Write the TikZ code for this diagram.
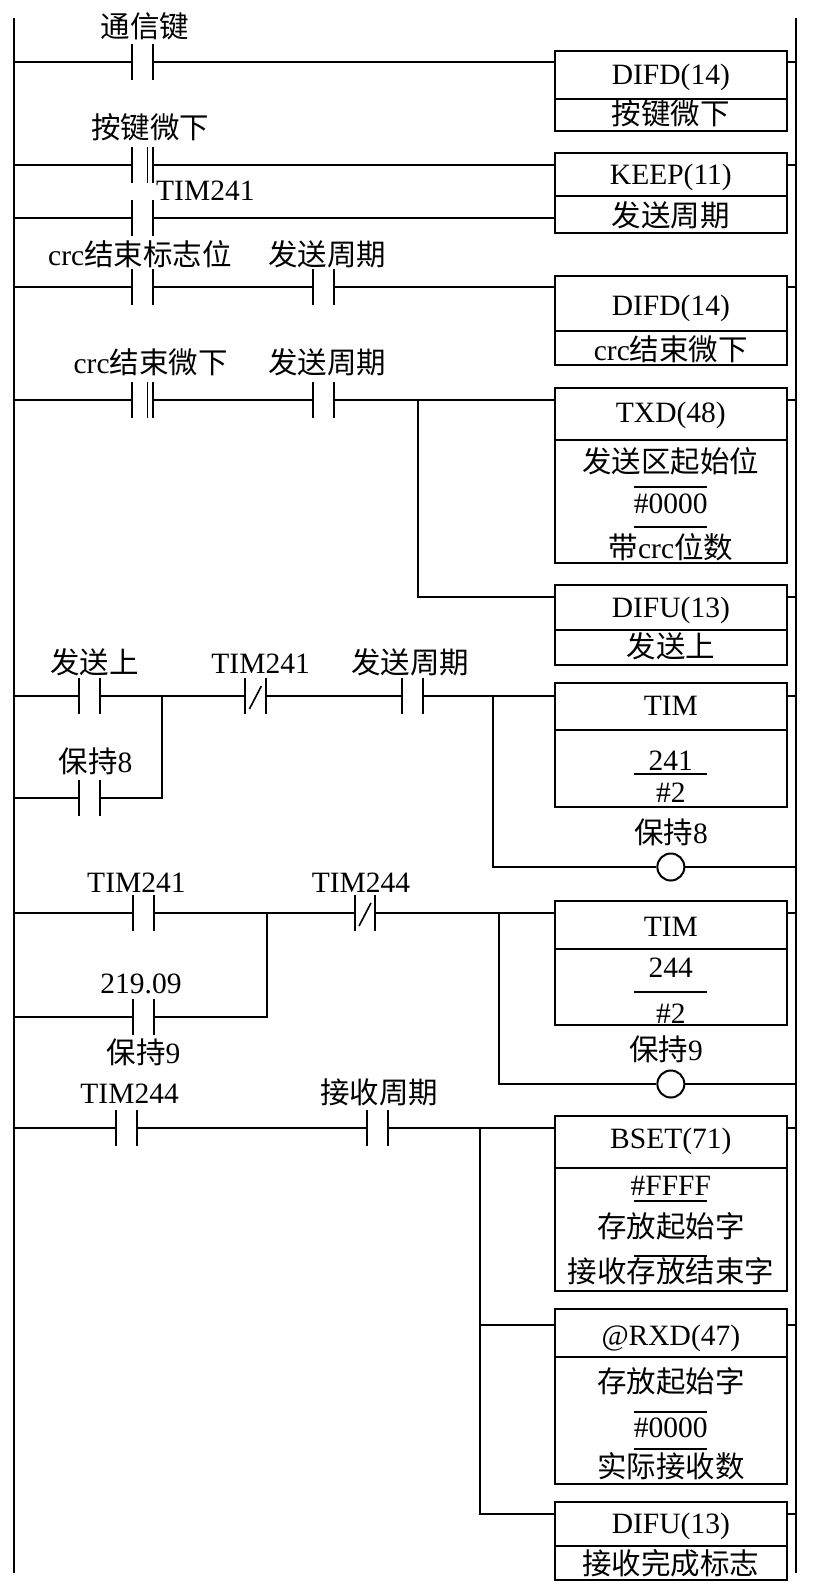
\documentclass[tikz,border=0pt]{standalone}
\usepackage{fontspec}
\setmainfont{Liberation Serif}
\newfontfamily\cjk{Noto Sans CJK SC}
\tikzset{
 wire/.style={line width=2pt},
 contact/.style={rectangle, draw=none, minimum width=20.5pt, minimum height=35pt, inner sep=0pt},
 fnbox/.style={rectangle, draw, line width=2.2pt, minimum width=231.7pt, inner sep=0pt},
 txt/.style={inner sep=0pt, text height=20.6pt, text depth=0pt, font=\fontsize{29.5pt}{32pt}\selectfont},
 hrule/.style={line width=1.5pt},
 coil/.style={circle, draw, line width=2pt, minimum size=27pt, inner sep=0pt},
}
\newcommand\plates[1]{\draw[wire] (#1.north west) -- (#1.south west) (#1.north east) -- (#1.south east);}
\newcommand\ncslash[1]{\draw[line width=1.6pt] ([shift={(-6,13)}]#1.center) -- ([shift={(6,-10)}]#1.center);}
\newcommand\diffline[1]{\draw[line width=1.6pt] ([xshift=5pt]#1.north) -- ([xshift=5pt]#1.south);}
\begin{document}
\begin{tikzpicture}[x=1pt,y=-1pt]
\useasboundingbox (0,0) rectangle (818,1589);
% rails
\coordinate (LT) at (14.3,18); \coordinate (LB) at (14.3,1573);
\coordinate (RT) at (796,18);  \coordinate (RB) at (796,1573);
\draw[wire] (LT) -- (LB);
\draw[wire] (RT) -- (RB);

% ---------- boxes ----------
\node[fnbox, minimum height=80pt]  (b1)  at (670.85,91)    {};
\node[fnbox, minimum height=80pt]  (b2)  at (670.85,193)   {};
\node[fnbox, minimum height=89pt]  (b3)  at (670.85,320.5) {};
\node[fnbox, minimum height=175pt] (b4)  at (670.85,475.5) {};
\node[fnbox, minimum height=80pt]  (b5)  at (670.85,625)   {};
\node[fnbox, minimum height=124pt] (b6)  at (670.85,745)   {};
\node[fnbox, minimum height=124pt] (b7)  at (670.85,963)   {};
\node[fnbox, minimum height=175pt] (b8)  at (670.85,1203.5){};
\node[fnbox, minimum height=175pt] (b9)  at (670.85,1396.5){};
\node[fnbox, minimum height=78pt]  (b10) at (670.85,1541)  {};
% dividers
\foreach \b/\y in {b1/99,b2/196,b3/331,b4/440,b5/630,b6/730,b7/949,b8/1168,b9/1357,b10/1546}
  \draw[line width=2.2pt] (\b.west |- 0,\y) -- (\b.east |- 0,\y);
% inner rules
\foreach \y in {487,527,774,992,1201,1256,1412,1449}
  \draw[hrule] (634.3,\y) -- (707.4,\y);

% box texts
\node[txt] (t1a) at (670.85,74)  {DIFD(14)};
\node[txt] (t1b) at (670.85,114) {\cjk 按键微下};
\node[txt] (t2a) at (670.85,174) {KEEP(11)};
\node[txt] (t2b) at (670.85,216) {\cjk 发送周期};
\node[txt] (t3a) at (670.85,305) {DIFD(14)};
\node[txt] (t3b) at (670.85,350) {crc{\cjk 结束微下}};
\node[txt] (t4a) at (670.85,412) {TXD(48)};
\node[txt] (t4b) at (670.85,462) {\cjk 发送区起始位};
\node[txt] (t4c) at (670.85,503) {\#0000};
\node[txt] (t4d) at (670.85,548) {{\cjk 带}crc{\cjk 位数}};
\node[txt] (t5a) at (670.85,607) {DIFU(13)};
\node[txt] (t5b) at (670.85,647) {\cjk 发送上};
\node[txt] (t6a) at (670.85,705) {TIM};
\node[txt] (t6b) at (670.85,760) {241};
\node[txt] (t6c) at (670.85,792) {\#2};
\node[txt] (t7a) at (670.85,926) {TIM};
\node[txt] (t7b) at (670.85,967) {244};
\node[txt] (t7c) at (670.85,1013) {\#2};
\node[txt] (t8a) at (670.85,1138) {BSET(71)};
\node[txt] (t8b) at (670.85,1185) {\#FFFF};
\node[txt] (t8c) at (670.85,1227) {\cjk 存放起始字};
\node[txt] (t8d) at (670.85,1272) {\cjk 接收存放结束字};
\node[txt] (t9a) at (670.85,1335) {@RXD(47)};
\node[txt] (t9b) at (670.85,1382) {\cjk 存放起始字};
\node[txt] (t9c) at (670.85,1427) {\#0000};
\node[txt] (t9d) at (670.85,1467) {\cjk 实际接收数};
\node[txt] (t10a) at (670.85,1523) {DIFU(13)};
\node[txt] (t10b) at (670.85,1564) {\cjk 接收完成标志};

% ---------- contacts ----------
\node[contact] (c1)  at (142.5,62)  {};
\node[contact] (c2)  at (142.5,165) {};
\node[contact] (c3)  at (142.5,218) {};
\node[contact] (c4)  at (142.5,287) {};
\node[contact] (c5)  at (323.3,287) {};
\node[contact] (c6)  at (142.5,400) {};
\node[contact] (c7)  at (323.3,400) {};
\node[contact] (c8)  at (89.5,696)  {};
\node[contact] (c9)  at (89.5,798)  {};
\node[contact] (c10) at (255.4,696) {};
\node[contact] (c11) at (412.5,696) {};
\node[contact] (c12) at (143.8,913) {};
\node[contact] (c13) at (143.8,1017){};
\node[contact] (c14) at (365,913)   {};
\node[contact] (c15) at (126.8,1128){};
\node[contact] (c16) at (377.3,1128){};
\foreach \c in {c1,c2,c3,c4,c5,c6,c7,c8,c9,c10,c11,c12,c13,c14,c15,c16} {\plates{\c}}
\diffline{c2}
\diffline{c6}
\ncslash{c10}
\ncslash{c14}

% contact labels
\node[txt] (l1)  at (145,27)    {\cjk 通信键};
\node[txt] (l2)  at (150,128)   {\cjk 按键微下};
\node[txt, anchor=west] (l3) at (156,190) {TIM241};
\node[txt] (l4)  at (140,255)   {crc{\cjk 结束标志位}};
\node[txt] (l5)  at (327,255)   {\cjk 发送周期};
\node[txt] (l6)  at (150.6,363) {crc{\cjk 结束微下}};
\node[txt] (l7)  at (327,363)   {\cjk 发送周期};
\node[txt] (l8)  at (94.5,663)  {\cjk 发送上};
\node[txt] (l9)  at (95.5,762)  {{\cjk 保持}8};
\node[txt] (l10) at (260.6,663) {TIM241};
\node[txt] (l11) at (410,663)   {\cjk 发送周期};
\node[txt] (l12) at (136.4,882) {TIM241};
\node[txt] (l13) at (141,983)   {219.09};
\node[txt] (l13b) at (143.6,1053) {{\cjk 保持}9};
\node[txt] (l14) at (361,882)   {TIM244};
\node[txt] (l15) at (129.6,1093) {TIM244};
\node[txt] (l16) at (379.4,1093) {\cjk 接收周期};

% coils
\node[coil] (k1) at (670.85,867)  {};
\node[coil] (k2) at (670.85,1084) {};
\node[txt] (lk1) at (671,833)  {{\cjk 保持}8};
\node[txt] (lk2) at (666,1050) {{\cjk 保持}9};

% ---------- junctions ----------
\coordinate (j4a) at (417.7,400);
\coordinate (j4b) at (417.7,597);
\coordinate (j5a) at (162,696);
\coordinate (j5b) at (162,798);
\coordinate (j5c) at (493.4,696);
\coordinate (j5d) at (493.4,867);
\coordinate (j6a) at (267.4,913);
\coordinate (j6b) at (267.4,1017);
\coordinate (j6c) at (498.6,913);
\coordinate (j6d) at (498.6,1084);
\coordinate (j7a) at (480.3,1128);
\coordinate (j7b) at (480.3,1325);
\coordinate (j7c) at (480.3,1514);

% ---------- wires ----------
% rung 1
\draw[wire] (LT |- c1.center) -- (c1.west);
\draw[wire] (c1.east) -- (c1.east -| b1.west);
\draw[wire] (b1.east |- c1.center) -- (RT |- c1.center);
% rung 2
\draw[wire] (LT |- c2.center) -- (c2.west);
\draw[wire] (c2.east) -- (c2.east -| b2.west);
\draw[wire] (b2.east |- c2.center) -- (RT |- c2.center);
\draw[wire] (LT |- c3.center) -- (c3.west);
\draw[wire] (c3.east) -- (c3.east -| b2.west);
% rung 3
\draw[wire] (LT |- c4.center) -- (c4.west);
\draw[wire] (c4.east) -- (c5.west);
\draw[wire] (c5.east) -- (c5.east -| b3.west);
\draw[wire] (b3.east |- c5.center) -- (RT |- c5.center);
% rung 4
\draw[wire] (LT |- c6.center) -- (c6.west);
\draw[wire] (c6.east) -- (c7.west);
\draw[wire] (c7.east) -- (j4a) -- (j4a -| b4.west);
\draw[wire] (j4a) -- (j4b) -- (j4b -| b5.west);
\draw[wire] (b4.east |- j4a) -- (RT |- j4a);
\draw[wire] (b5.east |- j4b) -- (RT |- j4b);
% rung 5
\draw[wire] (LT |- c8.center) -- (c8.west);
\draw[wire] (c8.east) -- (j5a) -- (c10.west);
\draw[wire] (LT |- c9.center) -- (c9.west);
\draw[wire] (c9.east) -- (j5b) -- (j5a);
\draw[wire] (c10.east) -- (c11.west);
\draw[wire] (c11.east) -- (j5c) -- (j5c -| b6.west);
\draw[wire] (j5c) -- (j5d) -- (k1.west);
\draw[wire] (k1.east) -- (RT |- k1.center);
\draw[wire] (b6.east |- j5c) -- (RT |- j5c);
% rung 6
\draw[wire] (LT |- c12.center) -- (c12.west);
\draw[wire] (c12.east) -- (j6a) -- (c14.west);
\draw[wire] (LT |- c13.center) -- (c13.west);
\draw[wire] (c13.east) -- (j6b) -- (j6a);
\draw[wire] (c14.east) -- (j6c) -- (j6c -| b7.west);
\draw[wire] (j6c) -- (j6d) -- (k2.west);
\draw[wire] (k2.east) -- (RT |- k2.center);
\draw[wire] (b7.east |- j6c) -- (RT |- j6c);
% rung 7
\draw[wire] (LT |- c15.center) -- (c15.west);
\draw[wire] (c15.east) -- (c16.west);
\draw[wire] (c16.east) -- (j7a) -- (j7a -| b8.west);
\draw[wire] (j7a) -- (j7c) -- (j7c -| b10.west);
\draw[wire] (j7b) -- (j7b -| b9.west);
\draw[wire] (b8.east |- j7a) -- (RT |- j7a);
\draw[wire] (b9.east |- j7b) -- (RT |- j7b);
\draw[wire] (b10.east |- j7c) -- (RT |- j7c);
\end{tikzpicture}
\end{document}
